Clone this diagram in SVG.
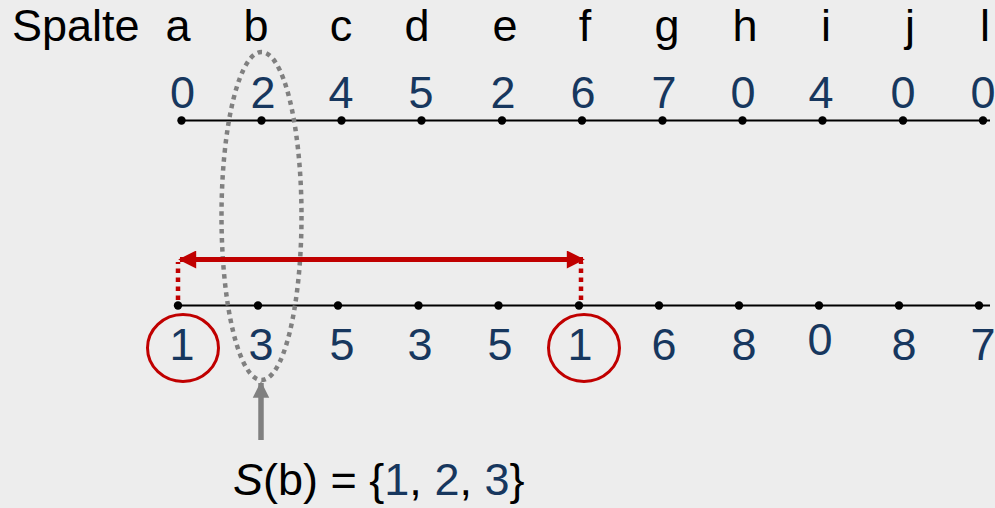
<svg xmlns="http://www.w3.org/2000/svg" width="995" height="508" viewBox="0 0 995 508">
<defs>
<style>
.t{font-family:"Liberation Sans",Arial,sans-serif;font-size:45px}
.k{fill:#000}
.b{fill:#17375E}
.m{text-anchor:middle}
.ln{stroke:#000;stroke-width:2.2;fill:none}
.dot{fill:#000}
</style>
<marker id="ra" viewBox="0 0 10 10" refX="9" refY="5" markerWidth="3.8" markerHeight="3.6" orient="auto-start-reverse" markerUnits="strokeWidth">
<path d="M0,0 L10,5 L0,10 z" fill="#C00000"/>
</marker>
<marker id="ga" viewBox="0 0 10 10" refX="9" refY="5" markerWidth="3" markerHeight="3.1" orient="auto" markerUnits="strokeWidth">
<path d="M0,0 L10,5 L0,10 z" fill="#808080"/>
</marker>
</defs>
<rect width="995" height="508" fill="#EDEDED"/>

<g id="header">
<text class="t k" x="12" y="41">Spalte</text>
<text class="t k m" x="178" y="41">a</text>
<text class="t k m" x="256" y="41">b</text>
<text class="t k m" x="341" y="41">c</text>
<text class="t k m" x="417" y="41">d</text>
<text class="t k m" x="505" y="41">e</text>
<text class="t k m" x="585" y="41">f</text>
<text class="t k m" x="667" y="41">g</text>
<text class="t k m" x="745" y="41">h</text>
<text class="t k m" x="826" y="41">i</text>
<text class="t k m" x="910" y="41">j</text>
<text class="t k m" x="985" y="41">l</text>
</g>

<g id="top-row">
<line class="ln" x1="181" y1="120.5" x2="990" y2="120.5"/>
<g class="dot">
<circle cx="181.5" cy="120.5" r="4.2"/><circle cx="261.5" cy="120.5" r="4.2"/><circle cx="341.5" cy="120.5" r="4.2"/><circle cx="421.5" cy="120.5" r="4.2"/><circle cx="502" cy="120.5" r="4.2"/><circle cx="582" cy="120.5" r="4.2"/><circle cx="662.5" cy="120.5" r="4.2"/><circle cx="742.5" cy="120.5" r="4.2"/><circle cx="822.5" cy="120.5" r="4.2"/><circle cx="903" cy="120.5" r="4.2"/><circle cx="983" cy="120.5" r="4.2"/>
</g>
<text class="t b m" x="182.5" y="108">0</text>
<text class="t b m" x="263" y="108">2</text>
<text class="t b m" x="341" y="108">4</text>
<text class="t b m" x="421" y="108">5</text>
<text class="t b m" x="503" y="108">2</text>
<text class="t b m" x="583" y="108">6</text>
<text class="t b m" x="664" y="108">7</text>
<text class="t b m" x="743" y="108">0</text>
<text class="t b m" x="821" y="108">4</text>
<text class="t b m" x="903" y="108">0</text>
<text class="t b m" x="983" y="108">0</text>
</g>

<g id="bottom-row">
<line class="ln" x1="178" y1="305.5" x2="990" y2="305.5"/>
<g class="dot">
<circle cx="178" cy="305.5" r="4.2"/><circle cx="258" cy="305.5" r="4.2"/><circle cx="338" cy="305.5" r="4.2"/><circle cx="418.5" cy="305.5" r="4.2"/><circle cx="498.5" cy="305.5" r="4.2"/><circle cx="579" cy="305.5" r="4.2"/><circle cx="659" cy="305.5" r="4.2"/><circle cx="739" cy="305.5" r="4.2"/><circle cx="819" cy="305.5" r="4.2"/><circle cx="899" cy="305.5" r="4.2"/><circle cx="979" cy="305.5" r="4.2"/>
</g>
<text class="t b m" x="182" y="360">1</text>
<text class="t b m" x="261" y="360">3</text>
<text class="t b m" x="342" y="360">5</text>
<text class="t b m" x="420" y="360">3</text>
<text class="t b m" x="500" y="360">5</text>
<text class="t b m" x="580" y="360">1</text>
<text class="t b m" x="664" y="360">6</text>
<text class="t b m" x="744" y="360">8</text>
<text class="t b m" x="820" y="355">0</text>
<text class="t b m" x="904" y="360">8</text>
<text class="t b m" x="983" y="360">7</text>
</g>

<g id="highlights" fill="none">
<ellipse cx="183" cy="348" rx="35.5" ry="33.5" stroke="#C00000" stroke-width="3"/>
<ellipse cx="584" cy="348" rx="35.5" ry="33.5" stroke="#C00000" stroke-width="3"/>
<ellipse cx="261.5" cy="216" rx="40" ry="164" stroke="#808080" stroke-width="4.5" stroke-dasharray="4.5 4.5"/>
</g>

<g id="connectors" fill="none">
<line x1="178" y1="300" x2="178" y2="262" stroke="#C00000" stroke-width="4.5" stroke-dasharray="4.5 4.5"/>
<line x1="581" y1="300" x2="581" y2="262" stroke="#C00000" stroke-width="4.5" stroke-dasharray="4.5 4.5"/>
<line x1="180" y1="259.5" x2="583" y2="259.5" stroke="#C00000" stroke-width="5" marker-start="url(#ra)" marker-end="url(#ra)"/>
<line x1="261" y1="440" x2="261" y2="383" stroke="#808080" stroke-width="5.5" marker-end="url(#ga)"/>
</g>

<g id="set-label">
<text class="t k" x="233" y="495"><tspan font-style="italic">S</tspan>(b) = {<tspan class="b">1</tspan>, <tspan class="b">2</tspan>, <tspan class="b">3</tspan>}</text>
</g>
</svg>
